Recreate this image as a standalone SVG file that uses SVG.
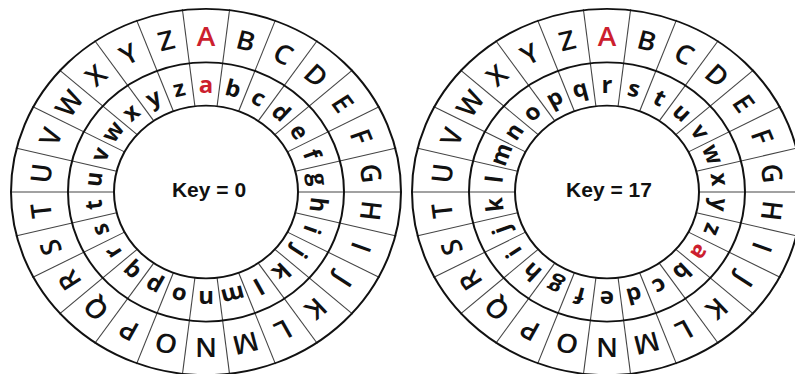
<svg xmlns="http://www.w3.org/2000/svg" xmlns:xlink="http://www.w3.org/1999/xlink" width="795" height="374" viewBox="0 0 795 374">
<style>
.ring{fill:none;stroke:#111;stroke-width:2}
.sp{stroke:#444;stroke-width:1.1}
.U{font-family:"Open Sans","Liberation Sans",sans-serif;font-size:28px;font-weight:600;text-anchor:middle;fill:#111}
.L{font-family:"Open Sans","Liberation Sans",sans-serif;font-size:24px;font-weight:700;text-anchor:middle;fill:#111}
.red{fill:#cc1f2f}
.key{font-family:"Liberation Sans",Arial,sans-serif;font-size:21px;font-weight:bold;text-anchor:middle;fill:#111}
</style>
<defs>
<g id="spokes" class="sp">
<line x1="0" y1="-92" x2="0" y2="-196" transform="rotate(6.923)"/>
<line x1="0" y1="-92" x2="0" y2="-196" transform="rotate(20.769)"/>
<line x1="0" y1="-92" x2="0" y2="-196" transform="rotate(34.615)"/>
<line x1="0" y1="-92" x2="0" y2="-196" transform="rotate(48.462)"/>
<line x1="0" y1="-92" x2="0" y2="-196" transform="rotate(62.308)"/>
<line x1="0" y1="-92" x2="0" y2="-196" transform="rotate(76.154)"/>
<line x1="0" y1="-92" x2="0" y2="-196" transform="rotate(90)"/>
<line x1="0" y1="-92" x2="0" y2="-196" transform="rotate(103.846)"/>
<line x1="0" y1="-92" x2="0" y2="-196" transform="rotate(117.692)"/>
<line x1="0" y1="-92" x2="0" y2="-196" transform="rotate(131.538)"/>
<line x1="0" y1="-92" x2="0" y2="-196" transform="rotate(145.385)"/>
<line x1="0" y1="-92" x2="0" y2="-196" transform="rotate(159.231)"/>
<line x1="0" y1="-92" x2="0" y2="-196" transform="rotate(173.077)"/>
<line x1="0" y1="-92" x2="0" y2="-196" transform="rotate(186.923)"/>
<line x1="0" y1="-92" x2="0" y2="-196" transform="rotate(200.769)"/>
<line x1="0" y1="-92" x2="0" y2="-196" transform="rotate(214.615)"/>
<line x1="0" y1="-92" x2="0" y2="-196" transform="rotate(228.462)"/>
<line x1="0" y1="-92" x2="0" y2="-196" transform="rotate(242.308)"/>
<line x1="0" y1="-92" x2="0" y2="-196" transform="rotate(256.154)"/>
<line x1="0" y1="-92" x2="0" y2="-196" transform="rotate(270)"/>
<line x1="0" y1="-92" x2="0" y2="-196" transform="rotate(283.846)"/>
<line x1="0" y1="-92" x2="0" y2="-196" transform="rotate(297.692)"/>
<line x1="0" y1="-92" x2="0" y2="-196" transform="rotate(311.538)"/>
<line x1="0" y1="-92" x2="0" y2="-196" transform="rotate(325.385)"/>
<line x1="0" y1="-92" x2="0" y2="-196" transform="rotate(339.231)"/>
<line x1="0" y1="-92" x2="0" y2="-196" transform="rotate(353.077)"/>
</g>
<g id="rings">
<circle class="ring" r="195"/>
<circle class="ring" r="138"/>
<circle class="ring" r="92"/>
</g>
<g id="outer">
<text class="U red" y="-156" transform="rotate(0)">A</text>
<text class="U" y="-156" transform="rotate(13.846)">B</text>
<text class="U" y="-156" transform="rotate(27.692)">C</text>
<text class="U" y="-156" transform="rotate(41.538)">D</text>
<text class="U" y="-156" transform="rotate(55.385)">E</text>
<text class="U" y="-156" transform="rotate(69.231)">F</text>
<text class="U" y="-156" transform="rotate(83.077)">G</text>
<text class="U" y="-156" transform="rotate(96.923)">H</text>
<text class="U" y="-156" transform="rotate(110.769)">I</text>
<text class="U" y="-156" transform="rotate(124.615)">J</text>
<text class="U" y="-156" transform="rotate(138.462)">K</text>
<text class="U" y="-156" transform="rotate(152.308)">L</text>
<text class="U" y="-156" transform="rotate(166.154)">M</text>
<text class="U" y="-156" transform="rotate(180)">N</text>
<text class="U" y="-156" transform="rotate(193.846)">O</text>
<text class="U" y="-156" transform="rotate(207.692)">P</text>
<text class="U" y="-156" transform="rotate(221.538)">Q</text>
<text class="U" y="-156" transform="rotate(235.385)">R</text>
<text class="U" y="-156" transform="rotate(249.231)">S</text>
<text class="U" y="-156" transform="rotate(263.077)">T</text>
<text class="U" y="-156" transform="rotate(276.923)">U</text>
<text class="U" y="-156" transform="rotate(290.769)">V</text>
<text class="U" y="-156" transform="rotate(304.615)">W</text>
<text class="U" y="-156" transform="rotate(318.462)">X</text>
<text class="U" y="-156" transform="rotate(332.308)">Y</text>
<text class="U" y="-156" transform="rotate(346.154)">Z</text>
</g>
<g id="inner">
<text class="L red" y="-105" transform="rotate(0)">a</text>
<text class="L" y="-105" transform="rotate(13.846)">b</text>
<text class="L" y="-105" transform="rotate(27.692)">c</text>
<text class="L" y="-105" transform="rotate(41.538)">d</text>
<text class="L" y="-105" transform="rotate(55.385)">e</text>
<text class="L" y="-105" transform="rotate(69.231)">f</text>
<text class="L" y="-105" transform="rotate(83.077)">g</text>
<text class="L" y="-105" transform="rotate(96.923)">h</text>
<text class="L" y="-105" transform="rotate(110.769)">i</text>
<text class="L" y="-105" transform="rotate(124.615)">j</text>
<text class="L" y="-105" transform="rotate(138.462)">k</text>
<text class="L" y="-105" transform="rotate(152.308)">l</text>
<text class="L" y="-105" transform="rotate(166.154)">m</text>
<text class="L" y="-105" transform="rotate(180)">n</text>
<text class="L" y="-105" transform="rotate(193.846)">o</text>
<text class="L" y="-105" transform="rotate(207.692)">p</text>
<text class="L" y="-105" transform="rotate(221.538)">q</text>
<text class="L" y="-105" transform="rotate(235.385)">r</text>
<text class="L" y="-105" transform="rotate(249.231)">s</text>
<text class="L" y="-105" transform="rotate(263.077)">t</text>
<text class="L" y="-105" transform="rotate(276.923)">u</text>
<text class="L" y="-105" transform="rotate(290.769)">v</text>
<text class="L" y="-105" transform="rotate(304.615)">w</text>
<text class="L" y="-105" transform="rotate(318.462)">x</text>
<text class="L" y="-105" transform="rotate(332.308)">y</text>
<text class="L" y="-105" transform="rotate(346.154)">z</text>
</g>
</defs>
<rect width="795" height="374" fill="#fff"/>
<g id="wheel-key0">
<g transform="translate(206,192) scale(1,0.939)">
<use xlink:href="#spokes"/>
<use xlink:href="#rings"/>
<use xlink:href="#outer"/>
<use xlink:href="#inner"/>
</g>
<text class="key" x="209" y="197">Key = 0</text>
</g>
<g id="wheel-key17">
<g transform="translate(607,192) scale(1,0.939)">
<use xlink:href="#spokes"/>
<use xlink:href="#rings"/>
<use xlink:href="#outer"/>
<use xlink:href="#inner" transform="rotate(124.615)"/>
</g>
<text class="key" x="609" y="197">Key = 17</text>
</g>
</svg>
